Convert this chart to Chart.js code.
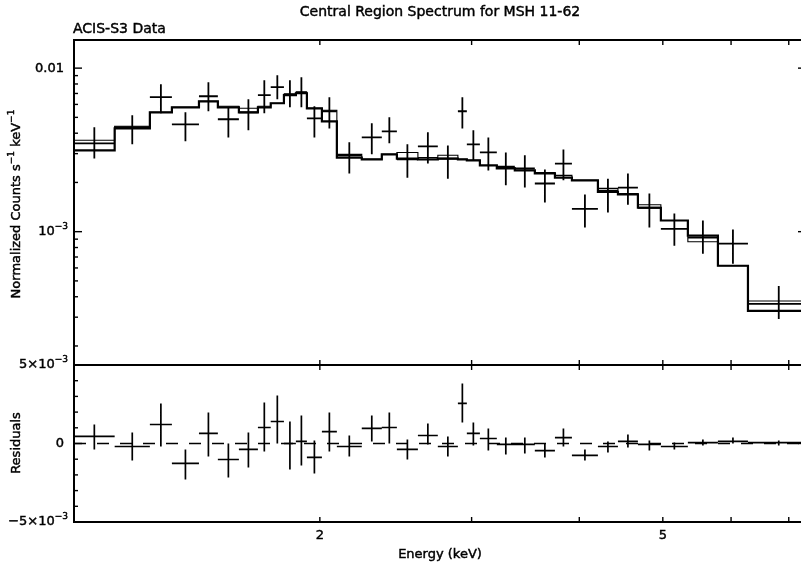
<!DOCTYPE html>
<html>
<head>
<meta charset="utf-8">
<script src="https://cdn.jsdelivr.net/npm/chart.js@4.4.0/dist/chart.umd.min.js"></script>
<style>
  body { margin: 0; background: #fff; }
  #lienzo { position: relative; width: 801px; height: 565px; overflow: hidden; background: #fff; }
  #lienzo canvas { position: absolute; left: 0; top: 0; }
</style>
</head>
<body>
<div id="lienzo">
  <canvas id="espectro" width="810" height="565" style="width:810px;height:565px"></canvas>
  <canvas id="residuos" width="810" height="565" style="width:810px;height:565px"></canvas>
</div>
<script>
// Bordes de cada canal de energia (keV)
const binLo = [1.037, 1.156, 1.270, 1.347, 1.448, 1.523, 1.611, 1.695, 1.754, 1.817, 1.876, 1.932,
               2.011, 2.093, 2.237, 2.360, 2.457, 2.599, 2.741, 2.892, 2.962, 3.067, 3.209, 3.367,
               3.552, 3.748, 3.922, 4.204, 4.435, 4.678, 4.974, 5.346, 5.793, 6.277];
const binHi = [1.156, 1.270, 1.347, 1.448, 1.523, 1.611, 1.695, 1.754, 1.817, 1.876, 1.932, 2.011,
               2.093, 2.237, 2.360, 2.457, 2.599, 2.741, 2.892, 2.962, 3.067, 3.209, 3.367, 3.552,
               3.748, 3.922, 4.204, 4.435, 4.678, 4.974, 5.346, 5.793, 6.277, 7.400];

// Cuentas normalizadas (unidades de 1e-3 cuentas s^-1 keV^-1)
const flujo   = [3.47, 4.35, 6.64, 4.53, 6.73, 4.87, 5.37, 6.83, 7.65, 6.93, 7.12, 4.93,
                 5.45, 2.93, 3.77, 4.11, 2.77, 3.32, 2.80, 5.45, 3.42, 3.05, 2.50, 2.44,
                 1.97, 2.61, 1.38, 1.78, 1.86, 1.40, 1.04, 0.919, 0.844, 0.362];
const flujoSup = [4.35, 5.15, 7.98, 5.37, 8.21, 5.76, 6.45, 8.44, 9.06, 8.44, 8.81, 5.85,
                  6.64, 3.52, 4.60, 5.01, 3.42, 4.05, 3.37, 6.64, 4.17, 3.77, 3.05, 2.93,
                  2.40, 3.18, 1.69, 2.11, 2.27, 1.71, 1.29, 1.17, 1.03, 0.466];
const flujoInf = [2.80, 3.42, 5.30, 3.57, 5.45, 3.77, 4.17, 5.30, 6.45, 5.76, 5.76, 3.77,
                  4.28, 2.27, 2.97, 3.47, 2.14, 2.61, 2.11, 4.28, 2.73, 2.37, 1.92, 1.86,
                  1.51, 2.06, 1.06, 1.31, 1.46, 1.06, 0.821, 0.733, 0.636, 0.292];

// Modelos (linea fina y linea gruesa)
const modeloFino   = [3.62, 4.41, 5.37, 5.76, 6.27, 5.85, 5.68, 5.85, 6.10, 6.93, 7.12, 5.68,
                      5.53, 2.97, 2.77, 2.97, 3.05, 2.84, 2.93, 2.77, 2.73, 2.54, 2.47, 2.37,
                      2.30, 2.21, 2.06, 1.84, 1.71, 1.46, 1.17, 0.868, 0.619, 0.377];
const modeloGrueso = [3.14, 4.28, 5.37, 5.76, 6.27, 5.76, 5.37, 5.76, 6.10, 6.83, 7.02, 5.68,
                      4.73, 2.84, 2.77, 2.97, 2.80, 2.77, 2.80, 2.77, 2.73, 2.54, 2.44, 2.37,
                      2.27, 2.14, 2.06, 1.75, 1.69, 1.40, 1.17, 0.945, 0.619, 0.328];

// Residuos (unidades de 1e-3)
const residuo = [0.45, -0.19, 1.21, -1.27, 0.64, -1.02, -0.38, 1.02, 1.40, 0.00, 0.13, -0.89,
                 0.76, -0.19, 0.96, 1.02, -0.38, 0.51, -0.19, 2.55, 0.64, 0.32, -0.06, -0.06,
                 -0.45, 0.38, -0.76, -0.19, 0.13, -0.06, -0.19, 0.06, 0.13, 0.06];
const residuoSup = [1.21, 0.70, 2.55, -0.38, 1.97, 0.00, 0.70, 2.61, 3.06, 1.40, 1.78, 0.19,
                    1.97, 0.51, 1.78, 1.97, 0.25, 1.27, 0.45, 3.82, 1.34, 0.96, 0.38, 0.38,
                    0.00, 0.96, -0.38, 0.13, 0.57, 0.19, 0.06, 0.25, 0.38, 0.19];
const residuoInf = [-0.38, -1.08, -0.19, -2.29, -0.83, -2.17, -1.53, -0.51, 0.00, -1.66, -1.40, -1.91,
                    -0.51, -0.83, 0.13, 0.00, -1.02, -0.06, -0.83, 1.34, -0.13, -0.45, -0.70, -0.64,
                    -0.89, -0.19, -1.08, -0.57, -0.25, -0.45, -0.38, -0.13, 0.00, -0.13];

const unidad = 1e-3;

// Rangos de los ejes
const energiaMin = 1.037, energiaMax = 7.33;
const flujoMin = 1.53e-4, flujoMax = 1.486e-2;
const residuoMin = -5e-3, residuoMax = 5e-3;

// Marcas y etiquetas
const ticksEnergia = [2, 3, 4, 5, 6, 7];
const etiquetasEnergia = [[2, "2"], [5, "5"]];
const etiquetasFlujo = [[1e-3, "10^\u22123"], [1e-2, "0.01"]];
const etiquetasResiduo = [[5e-3, "5\u00d710^\u22123"], [0, "0"], [-5e-3, "\u22125\u00d710^\u22123"]];

const FUENTE = '"DejaVu Sans"';

// puntos para dibujar las cruces (barra de canal + barra de error)
function puntosCruces(valores, sup, inf) {
    const pts = [];
    for (let i = 0; i < valores.length; i++) {
        const centro = Math.sqrt(binLo[i] * binHi[i]);
        pts.push({ x: binLo[i], y: valores[i] * unidad }, { x: binHi[i], y: valores[i] * unidad }, { x: centro, y: null });
        pts.push({ x: centro, y: inf[i] * unidad }, { x: centro, y: sup[i] * unidad }, { x: centro, y: null });
    }
    return pts;
}

// puntos del histograma del modelo
function puntosEscalon(modelo) {
    const pts = binLo.map((e, i) => ({ x: e, y: modelo[i] * unidad }));
    pts.push({ x: binHi[binHi.length - 1], y: modelo[modelo.length - 1] * unidad });
    return pts;
}

// texto con exponentes: "10^-3"
function texto(ctx, cadena, x, y, alinear, tam) {
    const trozos = cadena.split(/(\^\S+)/).filter(t => t);
    const fBase = tam + "px " + FUENTE;
    const fSup = Math.round(tam * 0.72) + "px " + FUENTE;
    let ancho = 0;
    const partes = trozos.map(t => {
        const sup = t[0] === "^";
        const s = sup ? t.slice(1) : t;
        ctx.font = sup ? fSup : fBase;
        const w = ctx.measureText(s).width;
        ancho += w;
        return { s, sup, w };
    });
    let cx = alinear === "right" ? x - ancho : alinear === "center" ? x - ancho / 2 : x;
    ctx.textAlign = "left";
    ctx.textBaseline = "middle";
    ctx.lineWidth = 0.45;
    partes.forEach(p => {
        ctx.font = p.sup ? fSup : fBase;
        const ty = p.sup ? y - tam * 0.42 : y;
        ctx.fillText(p.s, cx, ty);
        ctx.strokeText(p.s, cx, ty);
        cx += p.w;
    });
}

function linea(ctx, x1, y1, x2, y2) {
    ctx.beginPath();
    ctx.moveTo(x1, y1);
    ctx.lineTo(x2, y2);
    ctx.stroke();
}

// marco, marcas interiores y textos del panel superior
function marcoEspectro(chart) {
    const ctx = chart.ctx, a = chart.chartArea;
    const sx = chart.scales.x, sy = chart.scales.y;
    ctx.save();
    ctx.strokeStyle = "#000";
    ctx.fillStyle = "#000";
    ctx.lineWidth = 2;
    ctx.strokeRect(a.left, a.top, a.right - a.left, a.bottom - a.top);
    ctx.lineWidth = 1.4;
    ticksEnergia.forEach(v => {
        const px = sx.getPixelForValue(v);
        linea(ctx, px, a.top, px, a.top + 5);
        linea(ctx, px, a.bottom, px, a.bottom - 5);
    });
    [1e-4, 1e-3, 1e-2].forEach(d => {
        for (let k = 1; k <= 9; k++) {
            const v = k * d;
            if (v < flujoMin || v > flujoMax) continue;
            const py = sy.getPixelForValue(v);
            const largo = k === 1 ? 8 : 4;
            linea(ctx, a.left, py, a.left + largo, py);
            linea(ctx, a.right, py, a.right - largo, py);
        }
    });
    etiquetasFlujo.forEach(([v, t]) => {
        texto(ctx, t, t.includes("^") ? 68 : 64, sy.getPixelForValue(v), "right", 13);
    });
    texto(ctx, "Central Region Spectrum for MSH 11-62", 440, 12, "center", 14);
    texto(ctx, "ACIS-S3 Data", 73, 29, "left", 14);
    ctx.translate(17, 204);
    ctx.rotate(-Math.PI / 2);
    texto(ctx, "Normalized Counts s^\u22121 keV^\u22121", 0, 0, "center", 13);
    ctx.restore();
}

// marco, marcas y textos del panel de residuos
function marcoResiduos(chart) {
    const ctx = chart.ctx, a = chart.chartArea;
    const sx = chart.scales.x, sy = chart.scales.y;
    ctx.save();
    ctx.strokeStyle = "#000";
    ctx.fillStyle = "#000";
    ctx.lineWidth = 2;
    ctx.strokeRect(a.left, a.top, a.right - a.left, a.bottom - a.top);
    ctx.lineWidth = 1.4;
    ticksEnergia.forEach(v => {
        const px = sx.getPixelForValue(v);
        linea(ctx, px, a.top, px, a.top + 5);
        linea(ctx, px, a.bottom, px, a.bottom - 5);
    });
    for (let k = -5; k <= 5; k++) {
        const py = sy.getPixelForValue(k * 1e-3);
        const largo = k % 5 === 0 ? 8 : 4;
        linea(ctx, a.left, py, a.left + largo, py);
        linea(ctx, a.right, py, a.right - largo, py);
    }
    etiquetasResiduo.forEach(([v, t]) => {
        texto(ctx, t, t.includes("^") ? 68 : 64, sy.getPixelForValue(v), "right", 13);
    });
    etiquetasEnergia.forEach(([v, t]) => {
        texto(ctx, t, sx.getPixelForValue(v), 536, "center", 13);
    });
    texto(ctx, "Energy (keV)", 440, 555, "center", 13);
    ctx.translate(17, 443);
    ctx.rotate(-Math.PI / 2);
    texto(ctx, "Residuals", 0, 0, "center", 13);
    ctx.restore();
}

function opcionesBase(padding, ejeY) {
    return {
        responsive: false,
        animation: false,
        devicePixelRatio: 1,
        events: [],
        layout: { padding },
        plugins: { legend: { display: false }, tooltip: { enabled: false }, title: { display: false } },
        elements: { point: { radius: 0 }, line: { tension: 0 } },
        scales: {
            x: { type: "logarithmic", min: energiaMin, max: energiaMax, bounds: "data", display: false },
            y: ejeY
        }
    };
}

// 'before' en Chart.js traza primero el tramo horizontal (nivel del canal)
new Chart(document.getElementById("espectro"), {
    type: "line",
    data: {
        datasets: [
            { data: puntosEscalon(modeloFino), stepped: "before", borderColor: "#000", borderWidth: 1.1 },
            { data: puntosEscalon(modeloGrueso), stepped: "before", borderColor: "#000", borderWidth: 2.2 },
            { data: puntosCruces(flujo, flujoSup, flujoInf), borderColor: "#000", borderWidth: 1.8, spanGaps: false }
        ]
    },
    options: opcionesBase({ left: 74, right: 4, top: 40, bottom: 200 },
        { type: "logarithmic", min: flujoMin, max: flujoMax, bounds: "data", display: false }),
    plugins: [{ id: "marcoEspectro", afterDraw: marcoEspectro }]
});

new Chart(document.getElementById("residuos"), {
    type: "line",
    data: {
        datasets: [
            { data: [{ x: energiaMin, y: 0 }, { x: energiaMax, y: 0 }], borderColor: "#000", borderWidth: 1.5, borderDash: [12, 11] },
            { data: puntosCruces(residuo, residuoSup, residuoInf), borderColor: "#000", borderWidth: 1.7, spanGaps: false }
        ]
    },
    options: opcionesBase({ left: 74, right: 4, top: 365, bottom: 43 },
        { type: "linear", min: residuoMin, max: residuoMax, bounds: "data", display: false }),
    plugins: [{ id: "marcoResiduos", afterDraw: marcoResiduos }]
});
</script>
</body>
</html>
